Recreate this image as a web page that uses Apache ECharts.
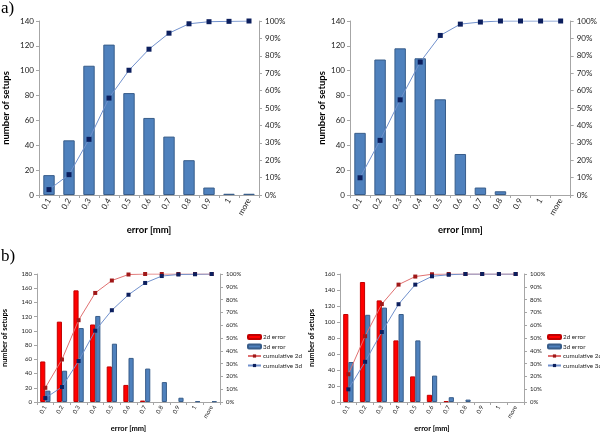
<!DOCTYPE html>
<html><head><meta charset="utf-8">
<script src="https://cdn.jsdelivr.net/npm/echarts@6/dist/echarts.min.js"></script>
<style>html,body{margin:0;padding:0;background:#fff}#c{width:600px;height:434px}</style>
</head><body><div id="c"></div>
<script>
var categories = ['0.1','0.2','0.3','0.4','0.5','0.6','0.7','0.8','0.9','1','more'];
// panel a) left
var aLeftCounts = [16,44,104,121,82,62,47,28,6,1,1];
var aLeftCum = [0.031,0.117,0.32,0.557,0.717,0.838,0.93,0.984,0.996,0.998,1.0];
// panel a) right
var aRightCounts = [50,109,118,110,77,33,6,3,0,0,0];
var aRightCum = [0.099,0.314,0.547,0.764,0.917,0.982,0.994,1.0,1.0,1.0,1.0];
// panel b) left
var bLeft2d = [57,113,157,109,50,24,2,0,0,0,0];
var bLeft2dCum = [0.111,0.332,0.639,0.852,0.949,0.996,1.0,1.0,1.0,1.0,1.0];
var bLeft3d = [16,44,104,121,82,62,47,28,6,1,1];
var bLeft3dCum = [0.031,0.117,0.32,0.557,0.717,0.838,0.93,0.984,0.996,0.998,1.0];
// panel b) right
var bRight2d = [110,150,127,77,32,9,1,0,0,0,0];
var bRight2dCum = [0.217,0.514,0.765,0.917,0.98,0.998,1.0,1.0,1.0,1.0,1.0];
var bRight3d = [50,109,118,110,77,33,6,3,0,0,0];
var bRight3dCum = [0.099,0.314,0.547,0.764,0.917,0.982,0.994,1.0,1.0,1.0,1.0];
var countTicksTopMax = 140, countTicksBLMax = 180, countTicksBRMax = 160;
var legendNames = ['2d error','3d error','cumulative 2d','cumulative 3d'];

var FONT = 'Lato';
var AX = '#a6a6a6';
var BLUE = '#4f81bd', BLUE_B = '#385d8a', RED = '#ff0000', RED_B = '#c00000';
var NAVY = '#0c1f5e', LBLUE = '#7090cc', DRED = '#a01818', LRED = '#e07070';

function xAx(gi, fs, nameGap){
  return {type:'category', gridIndex:gi, data:categories, boundaryGap:true,
    name:'error [mm]', nameLocation:'middle', nameGap:nameGap,
    nameTextStyle:{fontFamily:FONT, fontWeight:'bold', fontSize:fs+1.5, color:'#000'},
    axisLine:{lineStyle:{color:AX}}, axisTick:{show:true, length:3, lineStyle:{color:AX}},
    axisLabel:{rotate:60, fontFamily:FONT, fontSize:fs, color:'#222', margin:4, interval:0}};
}
function yL(gi, max, fs, nameGap){
  return {type:'value', gridIndex:gi, min:0, max:max, interval:20, position:'left',
    name:'number of setups', nameLocation:'middle', nameGap:nameGap,
    nameTextStyle:{fontFamily:FONT, fontWeight:'bold', fontSize:fs+1.5, color:'#000'},
    axisLine:{show:true, lineStyle:{color:AX}}, axisTick:{show:true, length:3, lineStyle:{color:AX}},
    splitLine:{show:false}, axisLabel:{fontFamily:FONT, fontSize:fs, color:'#222', margin:5}};
}
function yR(gi, fs){
  return {type:'value', gridIndex:gi, min:0, max:1, interval:0.1, position:'right',
    axisLine:{show:true, lineStyle:{color:AX}}, axisTick:{show:true, length:3, lineStyle:{color:AX}},
    splitLine:{show:false},
    axisLabel:{fontFamily:FONT, fontSize:fs, color:'#222', margin:6,
      formatter:function(v){return Math.round(v*100)+'%';}}};
}
function bar(name, xi, yi, data, col, bcol, gap){
  return {name:name, type:'bar', xAxisIndex:xi, yAxisIndex:yi,
    data:data.map(function(v){return v === 0 ? null : v;}),
    barGap:'0%', barCategoryGap:gap, itemStyle:{color:col, borderColor:bcol, borderWidth:1}, z:2};
}
function line(name, xi, yi, data, lc, mc, ss){
  return {name:name, type:'line', xAxisIndex:xi, yAxisIndex:yi, data:data,
    symbol:'rect', symbolSize:ss, showSymbol:true,
    lineStyle:{color:lc, width:1}, itemStyle:{color:mc, borderWidth:0}, z:5};
}
function leg(left){
  return {data:legendNames, orient:'vertical', left:left, top:334, itemGap:3.5, itemWidth:13, itemHeight:4,
     textStyle:{fontFamily:FONT, fontSize:6.3, color:'#222', padding:[0,0,0,-3]}, selectedMode:false,
     padding:0};
}

var option = {
  animation:false,
  backgroundColor:'#fff',
  grid:[
    {left:35, width:224, top:21, height:174},
    {left:350, width:224, top:21, height:174},
    {left:36, width:184, top:274, height:130},
    {left:340, width:184, top:274, height:130}
  ],
  xAxis:[xAx(0,8,30), xAx(1,8,30), xAx(2,6,23), xAx(3,6,23)],
  yAxis:[yL(0,countTicksTopMax,8,28), yR(0,8), yL(1,countTicksTopMax,8,22), yR(1,8),
         yL(2,countTicksBLMax,6,28), yR(2,6), yL(3,countTicksBRMax,6,24), yR(3,6)],
  legend:[leg(247), leg(547)],
  graphic:[
    {type:'text', left:1, top:0, style:{text:'a)', font:'17px "Liberation Serif"', fill:'#000'}},
    {type:'text', left:1, top:248, style:{text:'b)', font:'17px "Liberation Serif"', fill:'#000'}}
  ],
  series:[
    bar('3d count a', 0, 0, aLeftCounts, BLUE, BLUE_B, '43%'),
    line('3d cum a', 0, 1, aLeftCum, LBLUE, NAVY, 5),
    bar('3d count a2', 1, 2, aRightCounts, BLUE, BLUE_B, '43%'),
    line('3d cum a2', 1, 3, aRightCum, LBLUE, NAVY, 5),
    bar('2d error', 2, 4, bLeft2d, RED, RED_B, '38%'),
    bar('3d error', 2, 4, bLeft3d, BLUE, BLUE_B, '38%'),
    line('cumulative 2d', 2, 5, bLeft2dCum, LRED, DRED, 4),
    line('cumulative 3d', 2, 5, bLeft3dCum, LBLUE, NAVY, 4),
    bar('2d error', 3, 6, bRight2d, RED, RED_B, '38%'),
    bar('3d error', 3, 6, bRight3d, BLUE, BLUE_B, '38%'),
    line('cumulative 2d', 3, 7, bRight2dCum, LRED, DRED, 4),
    line('cumulative 3d', 3, 7, bRight3dCum, LBLUE, NAVY, 4)
  ]
};
var chart = echarts.init(document.getElementById('c'), null, {renderer:'canvas'});
chart.setOption(option);
</script>
</body></html>
